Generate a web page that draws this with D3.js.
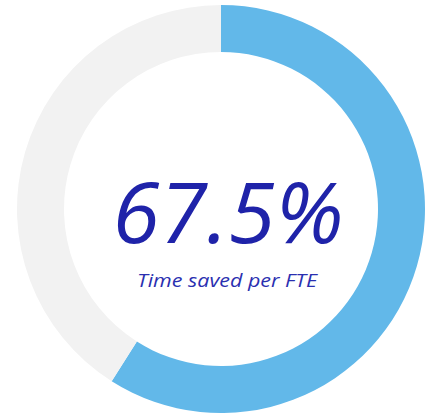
<!DOCTYPE html>
<html><head><meta charset="utf-8">
<script src="https://cdn.jsdelivr.net/npm/d3@7"></script>
<style>html,body{margin:0;padding:0;background:#fff;overflow:hidden}</style>
</head><body>
<svg id="c" width="425" height="417"></svg>
<script>
const categories = ["Saved", "Remaining"];
const values = [59, 41];
const colors = ["#62b8e9", "#f2f2f2"];
const valueLabel = "67.5%";
const subLabel = "Time saved per FTE";

const svg = d3.select("#c");
const cx = 221, cy = 209, outerR = 204, innerR = 157;
const g = svg.append("g").attr("transform", `translate(${cx},${cy})`);
const pie = d3.pie().sort(null).value(d => d)(values);
const arc = d3.arc().innerRadius(innerR).outerRadius(outerR);
g.selectAll("path").data(pie).join("path")
  .attr("d", arc)
  .attr("fill", (d, i) => colors[i]);

g.append("text").text(valueLabel)
  .attr("x", 7).attr("y", 34)
  .attr("text-anchor", "middle")
  .attr("font-family", "Open Sans")
  .attr("font-style", "italic")
  .attr("font-size", 85)
  .attr("textLength", 231).attr("lengthAdjust", "spacingAndGlyphs")
  .attr("fill", "#1f23a9");

g.append("text").text(subLabel)
  .attr("x", 6).attr("y", 78)
  .attr("text-anchor", "middle")
  .attr("font-family", "Open Sans")
  .attr("font-style", "italic")
  .attr("font-size", 19)
  .attr("textLength", 180).attr("lengthAdjust", "spacingAndGlyphs")
  .attr("fill", "#2a2fb0");
</script>
</body></html>
